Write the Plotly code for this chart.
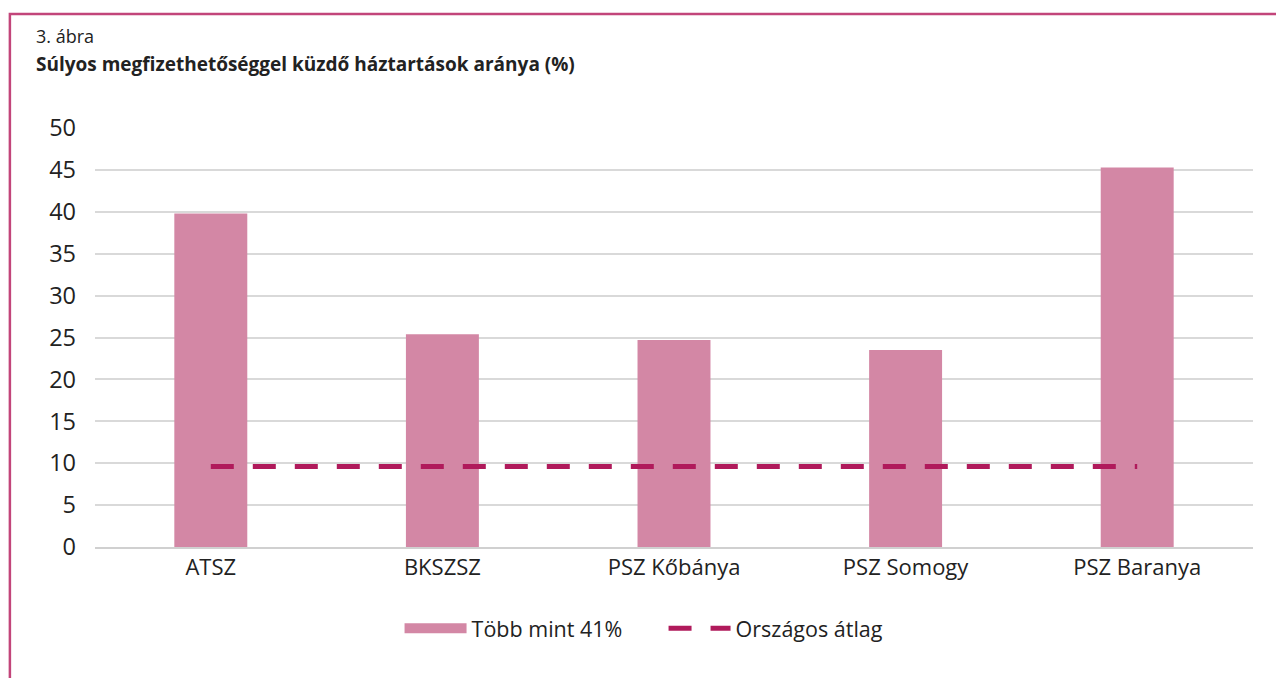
import plotly.graph_objects as go

categories = ['ATSZ', 'BKSZSZ', 'PSZ Kőbánya', 'PSZ Somogy', 'PSZ Baranya']
tobb_mint_41 = [39.8, 25.4, 24.7, 23.5, 45.3]
orszagos_atlag = [9.6, 9.6, 9.6, 9.6, 9.6]
y_ticks = [0, 5, 10, 15, 20, 25, 30, 35, 40, 45, 50]

bar_color = '#d387a5'
line_color = '#b01a5b'
font = 'Open Sans, Noto Sans, sans-serif'

fig = go.Figure()

fig.add_trace(go.Bar(
    x=categories, y=tobb_mint_41,
    name='Több mint 41%',
    marker={'color': bar_color, 'line': {'width': 0}},
    showlegend=False))

# legend-only entry so the bar key is drawn as a wide block
fig.add_trace(go.Scatter(
    x=[None], y=[None], mode='lines',
    name='Több mint 41%',
    line={'color': bar_color, 'width': 14}))

fig.add_trace(go.Scatter(
    x=categories, y=orszagos_atlag, mode='lines',
    name='Országos átlag',
    line={'color': line_color, 'width': 5, 'dash': '23px,19px'}))

fig.add_shape(type='rect', xref='paper', yref='paper',
              x0=-0.0735, x1=1.1, y0=-0.5, y1=1.272,
              line={'color': '#c2457a', 'width': 2.5}, fillcolor='rgba(0,0,0,0)')

fig.add_annotation(text='3. ábra', xref='paper', yref='paper',
                   x=-0.0525, y=1.219, xanchor='left', yanchor='middle',
                   showarrow=False, font={'size': 18, 'color': '#222', 'family': font})
fig.add_annotation(text='<b>Súlyos megfizethetőséggel küzdő háztartások aránya (%)</b>',
                   xref='paper', yref='paper',
                   x=-0.0525, y=1.153, xanchor='left', yanchor='middle',
                   showarrow=False, font={'size': 19, 'color': '#222', 'family': font})

fig.update_layout(
    width=1276, height=670,
    margin={'l': 87, 'r': 31, 't': 120, 'b': 131, 'autoexpand': False},
    plot_bgcolor='white', paper_bgcolor='white',
    font={'family': font, 'color': '#222'},
    bargap=0.685,
    xaxis={'tickfont': {'size': 22}, 'showline': True, 'linecolor': '#d0d0d0',
           'linewidth': 2, 'ticks': ''},
    yaxis={'range': [0, 50], 'tickvals': y_ticks, 'tickfont': {'size': 23.5},
           'showgrid': True, 'gridcolor': '#d9d9d9', 'gridwidth': 1.5,
           'zeroline': False, 'ticks': '', 'ticklabelstandoff': 18},
    legend={'orientation': 'h', 'x': 0.263, 'xanchor': 'left', 'y': -0.145,
            'yanchor': 'top', 'font': {'size': 21.5}, 'itemwidth': 62,
            'entrywidth': 187, 'traceorder': 'normal'},
)

fig.write_html('out.html')
